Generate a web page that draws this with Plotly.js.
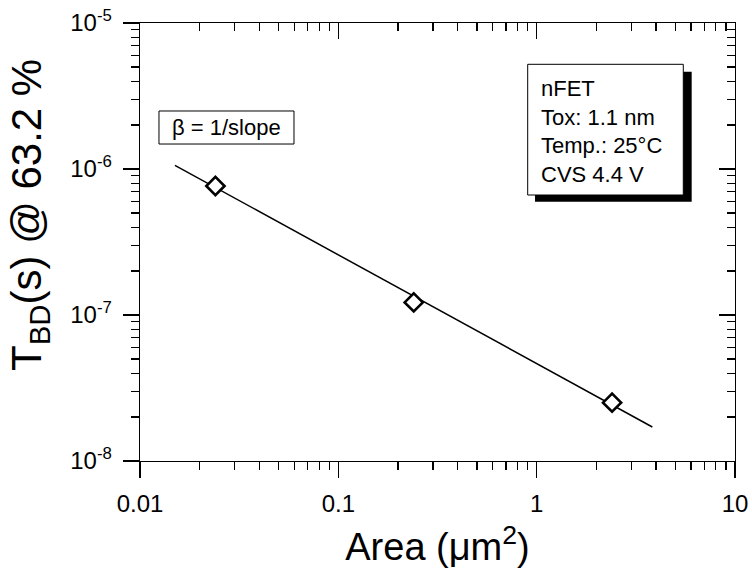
<!DOCTYPE html>
<html>
<head>
<meta charset="utf-8">
<script src="https://cdn.plot.ly/plotly-3.0.1.min.js"></script>
<style>html,body{margin:0;padding:0;background:#fff;}#chart{width:752px;height:573px;}</style>
</head>
<body>
<div id="chart"></div>
<script>
// Data
const areas = [0.024, 0.24, 2.4];               // Area (µm^2)
const tbd = [7.65e-7, 1.22e-7, 2.51e-8];        // T_BD (s) @ 63.2 %
const fitX = [0.015, 3.83];                     // fitted line end points
const fitY = [1.06e-6, 1.71e-8];

const xMajor = [0.01, 0.1, 1, 10];
const xMajorText = ['0.01', '0.1', '1', '10'];
const yMajor = [1e-8, 1e-7, 1e-6, 1e-5];
const yMajorText = ['10<sup>-8</sup>', '10<sup>-7</sup>', '10<sup>-6</sup>', '10<sup>-5</sup>'];

function minorVals(lo, hi) {
  const out = [];
  for (let e = lo; e < hi; e++) for (let m = 2; m <= 9; m++) out.push(m * Math.pow(10, e));
  return out;
}
const xMinor = minorVals(-2, 1);
const yMinor = minorVals(-8, -5);

const font = 'Arial, "Liberation Sans", sans-serif';

const traces = [
  {x: fitX, y: fitY, mode: 'lines', line: {color: '#000', width: 1.5}, hoverinfo: 'skip', showlegend: false},
  {x: areas, y: tbd, mode: 'markers', showlegend: false,
   marker: {symbol: 'diamond', size: 14, color: '#fff', line: {color: '#000', width: 2.6}}},
  // invisible copy so the mirrored top/right axes get drawn
  {x: areas, y: tbd, xaxis: 'x2', yaxis: 'y2', mode: 'markers', showlegend: false,
   hoverinfo: 'skip', marker: {opacity: 0}}
];

const common = {type: 'log', showgrid: false, zeroline: false, showline: true,
  linecolor: '#000', linewidth: 1.3, tickcolor: '#000', tickwidth: 1.2, ticklen: 16,
  tickmode: 'array'};

const layout = {
  width: 752, height: 573,
  margin: {l: 140, r: 17, t: 23, b: 112},
  paper_bgcolor: '#fff', plot_bgcolor: '#fff',
  font: {family: font, color: '#000', size: 24},
  xaxis: Object.assign({}, common, {
    range: [-2, 1], ticks: 'outside', tickvals: xMajor, ticktext: xMajorText,
    tickfont: {size: 24, family: font, color: '#000'}, ticklabelstandoff: 5,
    minor: {tickmode: 'array', tickvals: xMinor, ticks: 'outside', ticklen: 8, tickwidth: 1.2, tickcolor: '#000'},
    title: {text: 'Area (μm<sup>2</sup>)', font: {size: 38, family: font, color: '#000'}, standoff: 17}
  }),
  yaxis: Object.assign({}, common, {
    range: [-8, -5], ticks: 'outside', tickvals: yMajor, ticktext: yMajorText,
    tickfont: {size: 24, family: font, color: '#000'}, ticklabelstandoff: 6,
    minor: {tickmode: 'array', tickvals: yMinor, ticks: 'outside', ticklen: 8, tickwidth: 1.2, tickcolor: '#000'}
  }),
  xaxis2: Object.assign({}, common, {
    range: [-2, 1], overlaying: 'x', side: 'top', anchor: 'y2', ticks: 'inside',
    tickvals: xMajor, showticklabels: false,
    minor: {tickmode: 'array', tickvals: xMinor, ticks: 'inside', ticklen: 8, tickwidth: 1.2, tickcolor: '#000'}
  }),
  yaxis2: Object.assign({}, common, {
    range: [-8, -5], overlaying: 'y', side: 'right', anchor: 'x2', ticks: 'inside',
    tickvals: yMajor, showticklabels: false,
    minor: {tickmode: 'array', tickvals: yMinor, ticks: 'inside', ticklen: 8, tickwidth: 1.2, tickcolor: '#000'}
  }),
  shapes: [
    {type: 'rect', xref: 'paper', yref: 'paper', x0: 0.0319, x1: 0.2588, y0: 0.7237, y1: 0.7991,
     line: {color: '#000', width: 1}, fillcolor: '#fff'},
    {type: 'rect', xref: 'paper', yref: 'paper', x0: 0.6639, x1: 0.9272, y0: 0.592, y1: 0.8888,
     line: {color: '#000', width: 0}, fillcolor: '#000'},
    {type: 'rect', xref: 'paper', yref: 'paper', x0: 0.6516, x1: 0.9131, y0: 0.6073, y1: 0.9057,
     line: {color: '#000', width: 1}, fillcolor: '#fff'}
  ],
  annotations: [
    {xref: 'paper', yref: 'paper', x: -0.2345, y: 0.5616, xanchor: 'left', yanchor: 'middle',
     textangle: -90, text: 'T<sub>BD</sub>(s) @ 63.2 %', showarrow: false,
     font: {size: 42, family: font, color: '#000'}},
    {xref: 'paper', yref: 'paper', x: 0.1454, y: 0.7614, xanchor: 'center', yanchor: 'middle',
     text: 'β = 1/slope', showarrow: false, font: {size: 22, family: font, color: '#000'}},
    {xref: 'paper', yref: 'paper', x: 0.671, y: 0.7534, xanchor: 'left', yanchor: 'middle', align: 'left',
     text: 'nFET<br>Tox: 1.1 nm<br>Temp.: 25°C<br>CVS 4.4 V', showarrow: false,
     font: {size: 22, family: font, color: '#000'}}
  ]
};

Plotly.newPlot('chart', traces, layout, {staticPlot: true, displayModeBar: false});
</script>
</body>
</html>
